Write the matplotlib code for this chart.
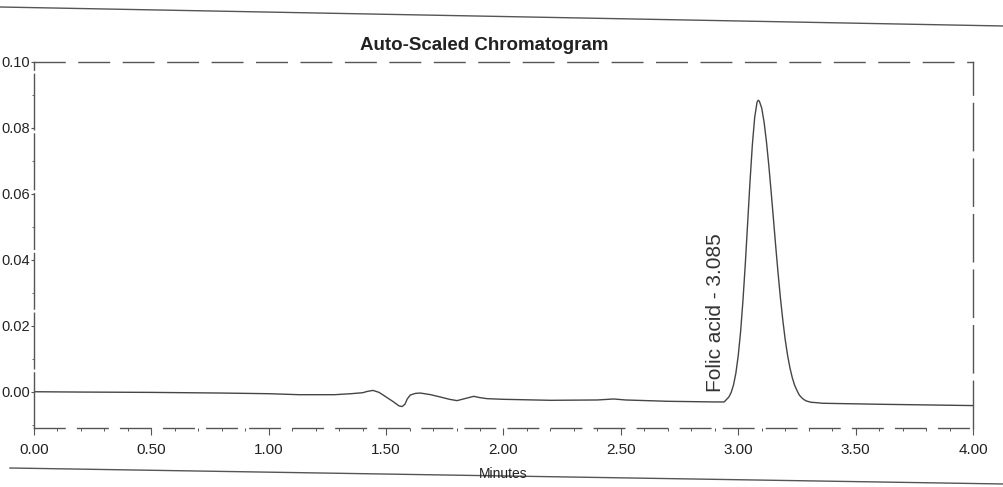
import matplotlib
matplotlib.use("Agg")
import matplotlib.pyplot as plt
from matplotlib.lines import Line2D
from matplotlib.ticker import MultipleLocator

# Detector trace: retention time (min) and response (AU)
time_min = [
    0.00, 0.20, 0.50, 0.80, 1.00, 1.13, 1.28, 1.35, 1.40, 1.42, 1.444, 1.47,
    1.50, 1.53, 1.555, 1.568, 1.58, 1.59, 1.603, 1.625, 1.646, 1.69, 1.731,
    1.77, 1.802, 1.84, 1.873, 1.90, 1.93, 2.00, 2.20, 2.40, 2.47, 2.52, 2.70,
    2.90, 2.94, 2.96, 2.97, 2.98, 2.99, 3.00, 3.01, 3.02, 3.03, 3.04, 3.05,
    3.06, 3.07, 3.08, 3.085, 3.09, 3.10, 3.11, 3.12, 3.13, 3.14, 3.15, 3.16,
    3.17, 3.18, 3.19, 3.20, 3.21, 3.22, 3.23, 3.24, 3.25, 3.26, 3.27, 3.28,
    3.29, 3.31, 3.33, 3.36, 3.60, 3.80, 4.00,
]
absorbance = [
    0.0000, -0.0001, -0.0002, -0.0004, -0.0006, -0.0009, -0.0009, -0.0006,
    -0.0003, 0.0001, 0.0004, -0.0002, -0.0016, -0.0030, -0.0043, -0.0045,
    -0.0038, -0.0022, -0.0010, -0.0005, -0.0004, -0.0009, -0.0016, -0.0023,
    -0.0027, -0.0020, -0.0014, -0.0018, -0.0021, -0.0023, -0.0026, -0.0025,
    -0.0022, -0.0025, -0.0029, -0.0031, -0.0031, -0.0016, -0.0002, 0.0021,
    0.0057, 0.0110, 0.0182, 0.0276, 0.0387, 0.0511, 0.0636, 0.0748, 0.0832,
    0.0878, 0.0884, 0.0881, 0.0860, 0.0818, 0.0759, 0.0688, 0.0607, 0.0523,
    0.0438, 0.0357, 0.0282, 0.0216, 0.0158, 0.0111, 0.0073, 0.0043, 0.0020,
    0.0004, -0.0010, -0.0018, -0.0024, -0.0028, -0.0032, -0.0033, -0.0035,
    -0.0038, -0.0040, -0.0042,
]

peak_name = "Folic acid"
peak_rt = 3.085

x_ticks = [0.00, 0.50, 1.00, 1.50, 2.00, 2.50, 3.00, 3.50, 4.00]
y_ticks = [0.00, 0.02, 0.04, 0.06, 0.08, 0.10]

W, H = 1004, 487
fig = plt.figure(figsize=(W / 100, H / 100), dpi=100)
fig.patch.set_facecolor("white")

ax = fig.add_axes([34 / W, 59 / H, 939 / W, 366 / H])
ax.plot(time_min, absorbance, color="#454545", lw=1.0)
ax.set_xlim(0, 4.0)
ax.set_ylim(-0.011, 0.100)

line_col = "#555555"
for name, dash in [("top", (22, 10)), ("bottom", (22, 9)),
                   ("left", (40, 3)), ("right", (34, 6))]:
    sp = ax.spines[name]
    sp.set_color(line_col)
    sp.set_linewidth(1.0)
    sp.set_linestyle((0, dash))

ax.set_xticks(x_ticks)
ax.set_xticklabels([f"{v:.2f}" for v in x_ticks])
ax.xaxis.set_minor_locator(MultipleLocator(0.1))
ax.set_yticks(y_ticks)
ax.set_yticklabels([f"{v:.2f}" for v in y_ticks])
ax.yaxis.set_minor_locator(MultipleLocator(0.01))

ax.tick_params(axis="x", which="major", direction="out", length=5,
               width=0.8, color=line_col, pad=5.5, labelsize=11,
               labelcolor="#222222")
ax.tick_params(axis="x", which="minor", direction="out", length=2.5,
               width=0.7, color=line_col)
ax.tick_params(axis="y", which="major", direction="out", length=2.5,
               width=0.8, color=line_col, pad=0.5, labelsize=10.5,
               labelcolor="#222222")
ax.tick_params(axis="y", which="minor", direction="out", length=1.5,
               width=0.6, color=line_col)

for lbl in ax.get_xticklabels():
    lbl.set_fontfamily(["Liberation Sans Narrow", "Liberation Sans", "DejaVu Sans"])
for lbl in ax.get_yticklabels():
    lbl.set_fontfamily(["Liberation Sans", "DejaVu Sans"])

# peak annotation
ax.text(peak_rt - 0.18, 0.024, f"{peak_name} - {peak_rt:.3f}", rotation=90,
        ha="center", va="center", fontsize=15, color="#333333",
        family=["Liberation Sans", "DejaVu Sans"])

fig.text(484.5 / W, 1 - 45 / H, "Auto-Scaled Chromatogram", ha="center",
         va="center", fontsize=13.5, fontweight="bold", color="#222222",
         family=["Liberation Sans", "DejaVu Sans"])
fig.text(503 / W, 1 - 474 / H, "Minutes", ha="center", va="center",
         fontsize=10, color="#222222",
         family=["Liberation Sans Narrow", "Liberation Sans", "DejaVu Sans"])

# printed page rules above and below the chart
fig.add_artist(Line2D([0, 1], [1 - 7 / H, 1 - 26 / H], transform=fig.transFigure,
                      color="#555555", lw=1.0))
fig.add_artist(Line2D([10 / W, 1], [1 - 468 / H, 1 - 484 / H],
                      transform=fig.transFigure, color="#555555", lw=1.0))

fig.savefig("out.png", dpi=100)
